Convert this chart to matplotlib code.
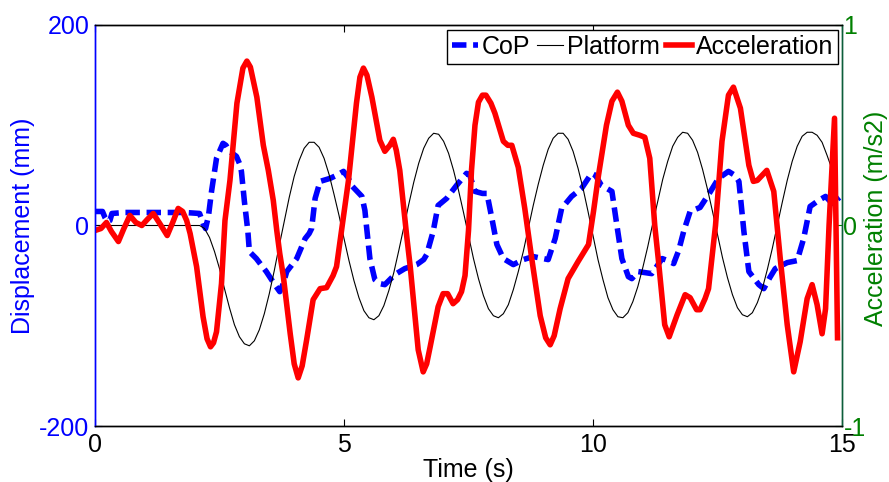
import matplotlib
matplotlib.use('Agg')
import matplotlib.pyplot as plt

plt.rcParams['font.family'] = ['Liberation Sans', 'DejaVu Sans']
plt.rcParams['font.size'] = 18
plt.rcParams['axes.unicode_minus'] = False

# ---------------- data ----------------
# Platform displacement (mm), sampled every 0.1 s from 0.0 to 14.9 s
plat_t = [round(0.1 * i, 1) for i in range(150)]
plat_mm = [
    0, 0, 0, 0, 0, 0, 0, 0, 0, 0,
    0, 0, 0, 0, 0, 0, 0, 0, 0, 0,
    0, 0, -3, -12, -26, -43, -63, -82, -99, -111,
    -118, -120, -115, -104, -88, -68, -45, -20, 4, 28,
    49, 65, 77, 83, 83, 78, 67, 51, 31, 10,
    -13, -35, -55, -72, -85, -92, -94, -90, -80, -65,
    -47, -25, -2, 21, 43, 62, 77, 87, 92, 91,
    84, 72, 55, 35, 13, -10, -33, -53, -70, -83,
    -90, -92, -88, -79, -64, -46, -26, -3, 20, 41,
    60, 76, 87, 92, 92, 86, 74, 57, 37, 14,
    -10, -34, -54, -72, -84, -91, -92, -87, -76, -61,
    -42, -21, 2, 24, 46, 64, 79, 88, 93, 92,
    85, 73, 56, 36, 14, -9, -32, -52, -69, -82,
    -89, -91, -87, -77, -63, -44, -23, 0, 23, 45,
    64, 79, 89, 93, 93, 90, 83, 70, 56, 45,
]

# Centre of pressure (mm)
cop_t = [0.0, 0.15, 0.2, 0.25, 0.3, 0.34, 0.6, 1.0, 1.4, 1.8, 2.1, 2.17, 2.22,
         2.28, 2.34, 2.44, 2.57, 2.63, 2.7, 2.84, 2.9, 2.94, 3.0, 3.07, 3.1,
         3.24, 3.44, 3.61, 3.71, 3.78, 3.85, 4.05, 4.22, 4.3, 4.35, 4.42, 4.52,
         4.72, 4.85, 4.99, 5.08, 5.15, 5.36, 5.42, 5.45, 5.52, 5.62, 5.72, 5.82,
         6.02, 6.22, 6.46, 6.6, 6.66, 6.79, 6.89, 7.06, 7.26, 7.46, 7.52, 7.63,
         7.78, 7.87, 7.97, 8.07, 8.2, 8.4, 8.6, 8.8, 9.1, 9.24, 9.37, 9.57,
         9.77, 9.97, 10.05, 10.17, 10.38, 10.48, 10.58, 10.71, 10.78, 10.91,
         11.18, 11.39, 11.5, 11.62, 11.72, 11.82, 11.95, 12.15, 12.36, 12.52,
         12.72, 12.85, 12.93, 13.03, 13.13, 13.33, 13.43, 13.55, 13.66, 13.9,
         14.1, 14.23, 14.36, 14.53, 14.67, 14.8, 14.95]
cop_mm = [14, 14, 8, 4, 5, 12, 13, 13, 13, 13, 12, 2, -3,
          10, 34, 67, 82, 80, 74, 69, 62, 54, 24, -6, -26,
          -33, -46, -59, -66, -58, -46, -33, -13, -8, -3, 27, 44,
          47, 50, 54, 48, 40, 29, 15, 0, -33, -54, -58, -59,
          -49, -43, -39, -34, -29, -6, 20, 27, 40, 52, 51, 34,
          32, 32, 7, -19, -33, -39, -34, -31, -34, -13, 17, 29,
          37, 52, 50, 40, 34, 0, -33, -51, -53, -46,
          -48, -33, -35, -38, -25, -6, 14, 18, 34, 47,
          54, 50, 44, -6, -46, -59, -63, -52, -43, -37,
          -35, -13, 19, 25, 29, 22, 28]

# Platform acceleration (m/s2), right axis
acc_t = [0.0, 0.12, 0.23, 0.33, 0.47, 0.58, 0.7, 0.82, 0.94, 1.05, 1.17, 1.3,
         1.45, 1.56, 1.67, 1.76, 1.84, 1.91, 2.04, 2.17, 2.25, 2.32, 2.38, 2.44,
         2.54, 2.61, 2.71, 2.85, 2.97, 3.05, 3.12, 3.25, 3.38, 3.48, 3.58, 3.65,
         3.71, 3.78, 3.92, 4.0, 4.08, 4.16, 4.25, 4.38, 4.52, 4.65, 4.78, 4.85,
         4.99, 5.09, 5.25, 5.32, 5.39, 5.46, 5.56, 5.72, 5.82, 5.92, 5.99, 6.05,
         6.12, 6.26, 6.33, 6.49, 6.59, 6.66, 6.73, 6.89, 6.99, 7.08, 7.19, 7.28,
         7.36, 7.43, 7.5, 7.56, 7.63, 7.7, 7.78, 7.85, 7.95, 8.03, 8.2, 8.29,
         8.37, 8.5, 8.63, 8.77, 8.94, 9.05, 9.14, 9.22, 9.34, 9.5, 9.7, 9.85,
         9.91, 10.01, 10.11, 10.27, 10.38, 10.49, 10.58, 10.71, 10.81, 10.94,
         11.04, 11.14, 11.24, 11.31, 11.44, 11.53, 11.69, 11.85, 11.95, 12.08,
         12.15, 12.25, 12.32, 12.46, 12.59, 12.72, 12.82, 12.96, 13.13, 13.22,
         13.3, 13.49, 13.63, 13.76, 13.9, 14.03, 14.16, 14.3, 14.4, 14.5, 14.6,
         14.67, 14.74, 14.85, 14.91]
acc_ms2 = [-0.025, -0.015, 0.015, -0.03, -0.08, -0.015, 0.05, 0.015, 0.0, 0.03,
           0.06, 0.01, -0.05, 0.015, 0.085, 0.07, 0.025, -0.04, -0.205, -0.455,
           -0.565, -0.605, -0.585, -0.53, -0.29, 0.025, 0.225, 0.61, 0.785, 0.82,
           0.79, 0.64, 0.40, 0.275, 0.125, -0.025, -0.14, -0.25, -0.54, -0.69,
           -0.76, -0.70, -0.57, -0.37, -0.315, -0.31, -0.25, -0.205, 0.045, 0.225,
           0.61, 0.74, 0.785, 0.75, 0.64, 0.425, 0.37, 0.40, 0.43, 0.375,
           0.275, -0.055, -0.205, -0.62, -0.73, -0.69, -0.605, -0.405, -0.34, -0.34,
           -0.39, -0.37, -0.33, -0.25, -0.025, 0.275, 0.50, 0.615, 0.65, 0.65,
           0.61, 0.56, 0.42, 0.40, 0.40, 0.29, 0.085, -0.165, -0.45, -0.56,
           -0.595, -0.55, -0.415, -0.265, -0.18, -0.12, -0.095, 0.07, 0.25, 0.50,
           0.62, 0.665, 0.62, 0.50, 0.46, 0.45, 0.44, 0.335, 0.0, -0.165,
           -0.495, -0.555, -0.445, -0.345, -0.36, -0.42, -0.42, -0.365, -0.315, 0.0,
           0.42, 0.65, 0.69, 0.585, 0.30, 0.22, 0.225, 0.275, 0.17, -0.165,
           -0.495, -0.73, -0.58, -0.365, -0.295, -0.395, -0.54, -0.415, 0.0, 0.535,
           -0.56]

x_ticks = [0, 5, 10, 15]
left_ticks = [-200, 0, 200]
right_ticks = [-1, 0, 1]
series_names = ['CoP', 'Platform', 'Acceleration']

# ---------------- figure ----------------
W, H = 889, 482
green = '#008000'
fig = plt.figure(figsize=(W / 100, H / 100), dpi=100)
ax = fig.add_axes([95 / W, 1 - 426 / H, 747 / W, 401 / H])
ax2 = ax.twinx()

l1, = ax.plot(cop_t, cop_mm, color='blue', lw=4, linestyle=(0, (2.6, 1.2)))
l2, = ax.plot(plat_t, plat_mm, color='black', lw=0.8)
l3, = ax2.plot(acc_t, acc_ms2, color='red', lw=4)

ax.set_xlim(0, 15)
ax.set_ylim(-200, 200)
ax.set_xticks(x_ticks)
ax.set_yticks(left_ticks)
ax2.set_ylim(-1, 1)
ax2.set_yticks(right_ticks)

ax.tick_params(axis='x', direction='in', top=True, length=5, width=0.8,
               pad=5, colors='black')
ax.tick_params(axis='y', direction='in', length=5, width=0.8, color='blue',
               labelcolor='blue', pad=4)
ax2.tick_params(axis='y', direction='in', length=5, width=0.8, color=green,
                labelcolor=green, pad=1)

for a in (ax, ax2):
    a.spines['left'].set_color('blue')
    a.spines['top'].set_color('black')
    a.spines['bottom'].set_color('black')
    for s in a.spines.values():
        s.set_linewidth(1.0)
ax.spines['right'].set_color('#0d5e3a')
ax2.spines['right'].set_color('#0d5e3a')

ax.set_xlabel('Time (s)', labelpad=1)
ax.set_ylabel('Displacement (mm)', color='blue', labelpad=3)
ax2.set_ylabel('Acceleration (m/s2)', color=green, fontsize=18)
ax2.yaxis.set_label_coords((864 - 95) / 747, 1 - (218 - 25) / 401)

leg = ax2.legend([l1, l2, l3], series_names, loc='upper right',
                 bbox_to_anchor=((838 - 95) / 747, 1 - (30 - 25) / 401),
                 ncol=3, handlelength=1.05, handletextpad=0.15,
                 columnspacing=0.25, borderpad=0.2, borderaxespad=0,
                 fancybox=False, framealpha=1, edgecolor='black', fontsize=18)
leg.get_frame().set_linewidth(1.0)

fig.savefig('out.png', dpi=100)
